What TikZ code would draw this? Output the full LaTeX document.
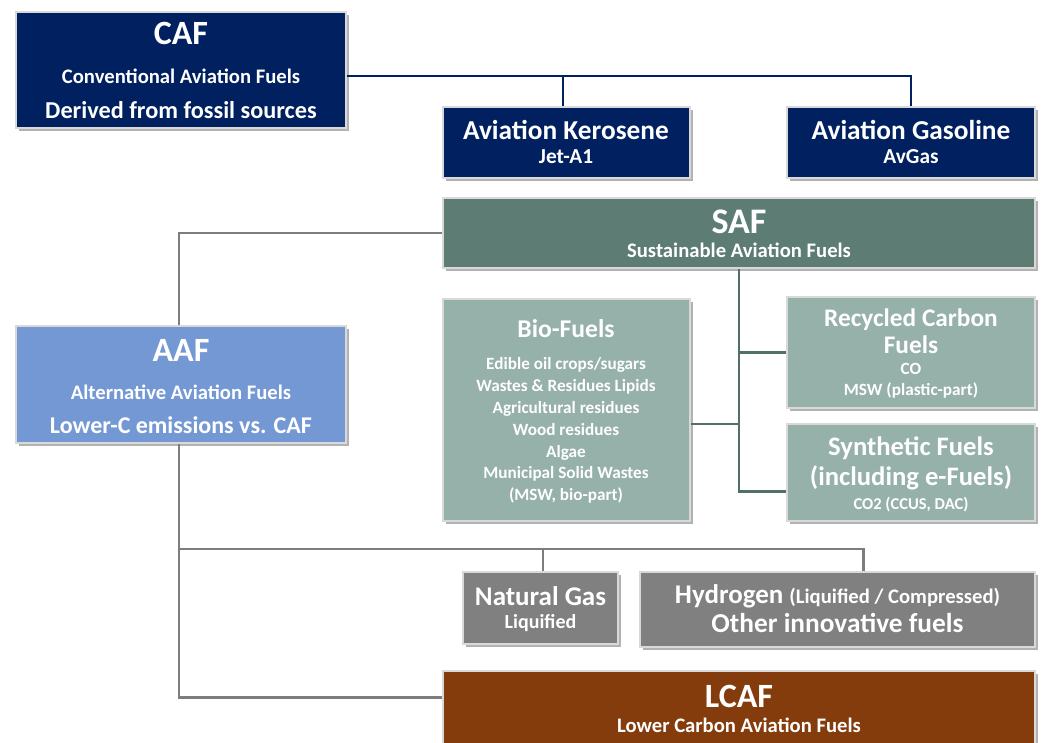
\documentclass[tikz,border=0pt]{standalone}
\usepackage{fontspec}
\setmainfont{Carlito}
\usetikzlibrary{shadows,fit,calc}
\definecolor{navy}{RGB}{0,32,96}
\definecolor{safdark}{RGB}{92,124,116}
\definecolor{saflight}{RGB}{150,176,170}
\definecolor{aafblue}{RGB}{116,152,212}
\definecolor{gasgrey}{RGB}{128,128,128}
\definecolor{lcafbrown}{RGB}{132,60,12}
\definecolor{tealline}{RGB}{80,112,104}
\definecolor{greyline}{RGB}{125,125,125}
\newcommand\fsz[1]{\fontsize{#1pt}{#1pt}\selectfont}
\tikzset{
  box/.style={draw=white!85!black, line width=0.9pt, inner sep=0pt,
    drop shadow={shadow xshift=2pt, shadow yshift=-2pt, fill=black, opacity=0.3}},
  txt/.style={text=white, font=\bfseries, inner sep=0pt, anchor=base},
  navyl/.style={draw=navy, line width=1.6pt},
  greyl/.style={draw=greyline, line width=1.9pt},
  teall/.style={draw=tealline, line width=2.2pt},
}
\begin{document}
\begin{tikzpicture}[x=0.75pt,y=-0.75pt]
\useasboundingbox (0,0) rectangle (1041,742);
\clip (0,0) rectangle (1041,742);
% boxes
\node[box, fill=navy, fit={(16,12) (346,128)}] (caf) {};
\node[box, fill=navy, fit={(443,107) (690,178)}] (ker) {};
\node[box, fill=navy, fit={(787,107) (1035,178)}] (gas) {};
\node[box, fill=safdark, fit={(443,198) (1035,268)}] (saf) {};
\node[box, fill=aafblue, fit={(16,326) (346,443)}] (aaf) {};
\node[box, fill=saflight, fit={(443,299) (690,521)}] (bio) {};
\node[box, fill=saflight, fit={(787,297) (1035,408)}] (rec) {};
\node[box, fill=saflight, fit={(787,424) (1035,521)}] (syn) {};
\node[box, fill=gasgrey, fit={(463,572) (618,644)}] (ng) {};
\node[box, fill=gasgrey, fit={(640,572) (1035,647)}] (hyd) {};
\node[box, fill=lcafbrown, fit={(443,671) (1035,780)}] (lcaf) {};
% texts
\node[txt] (t1) at (181,45) {\fsz{25.5}CAF};
\node[txt] (t2) at (181,84) {\fsz{15.5}Conventional Aviation Fuels};
\node[txt] (t3) at (181,118) {\fsz{18.2}Derived from fossil sources};
\node[txt] (t4) at (566,139) {\fsz{20.5}Aviation Kerosene};
\node[txt] (t5) at (566,163) {\fsz{16}Jet-A1};
\node[txt] (t6) at (911,139) {\fsz{20.5}Aviation Gasoline};
\node[txt] (t7) at (911,163) {\fsz{16}AvGas};
\node[txt] (t8) at (739,233) {\fsz{27}SAF};
\node[txt] (t9) at (739,257) {\fsz{15.5}Sustainable Aviation Fuels};
\node[txt] (t10) at (181,361) {\fsz{25.5}AAF};
\node[txt] (t11) at (181,399) {\fsz{15.5}Alternative Aviation Fuels};
\node[txt] (t12) at (181,433) {\fsz{18}Lower-C emissions vs. CAF};
\node[txt] (t13) at (566,337) {\fsz{19.2}Bio-Fuels};
\node[txt] (t14) at (566,369) {\fsz{12.9}Edible oil crops/sugars};
\node[txt] (t15) at (566,391) {\fsz{12.9}Wastes \& Residues Lipids};
\node[txt] (t16) at (566,413) {\fsz{12.9}Agricultural residues};
\node[txt] (t17) at (566,435) {\fsz{12.9}Wood residues};
\node[txt] (t18) at (566,457) {\fsz{12.9}Algae};
\node[txt] (t19) at (566,478) {\fsz{12.9}Municipal Solid Wastes};
\node[txt] (t20) at (566,500) {\fsz{12.9}(MSW, bio-part)};
\node[txt] (t21) at (911,326) {\fsz{19}Recycled Carbon};
\node[txt] (t22) at (911,353) {\fsz{19}Fuels};
\node[txt] (t23) at (911,374) {\fsz{12.9}CO};
\node[txt] (t24) at (911,395) {\fsz{12.9}MSW (plastic-part)};
\node[txt] (t25) at (911,455) {\fsz{20}Synthetic Fuels};
\node[txt] (t26) at (911,485) {\fsz{20}(including e-Fuels)};
\node[txt] (t27) at (911,509) {\fsz{12.4}CO2 (CCUS, DAC)};
\node[txt] (t28) at (540.5,605) {\fsz{20.25}Natural Gas};
\node[txt] (t29) at (540.5,628) {\fsz{15}Liquified};
\node[txt] (t30) at (837.5,603) {\fsz{20.25}Hydrogen {\fsz{15.5}(Liquified / Compressed)}};
\node[txt] (t31) at (837.5,632) {\fsz{20.5}Other innovative fuels};
\node[txt] (t32) at (739,707) {\fsz{25.5}LCAF};
\node[txt] (t33) at (739,732) {\fsz{15.5}Lower Carbon Aviation Fuels};
% connectors
\coordinate (navyj) at (563,76);
\draw[navyl] ([yshift=-4.5pt]caf.east) -| (gas.north);
\draw[navyl] (ker.north -| navyj) -- (navyj);
\coordinate (aafx) at (179,0);
\draw[greyl] (aaf.north -| aafx) |- (saf.west);
\coordinate (lcafj) at ($(lcaf.north west)+(0,27)$);
\draw[greyl] (aaf.south -| aafx) |- (lcafj);
\coordinate (br) at (179,549);
\coordinate (hydj) at ($(hyd.north west)+(224,0)$);
\draw[greyl] (br) -| (hydj);
\coordinate (ngj) at (543,0);
\draw[greyl] (ng.north -| ngj) -- (br -| ngj);
\coordinate (synj) at ($(syn.south west)+(0,-30)$);
\draw[teall] (saf.south) |- (synj);
\draw[teall] (rec.west -| saf.south) -- (rec.west);
\coordinate (bioj) at ($(bio.east)+(0,14)$);
\draw[teall] (bioj) -- (bioj -| saf.south);
\end{tikzpicture}
\end{document}
